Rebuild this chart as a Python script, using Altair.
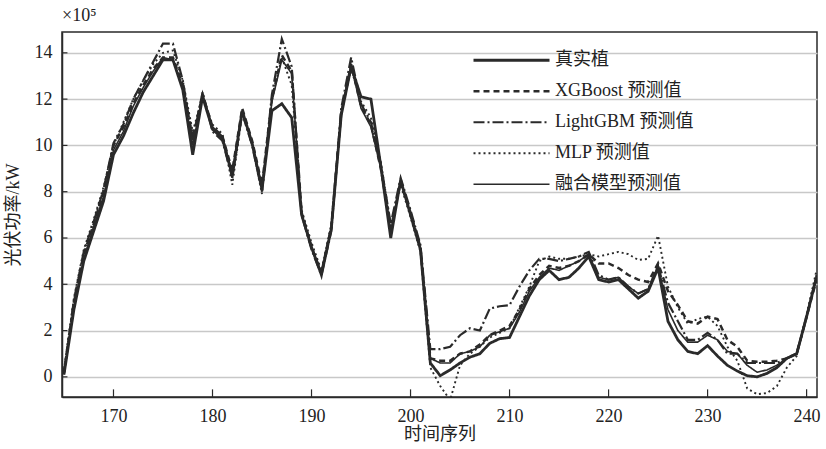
import altair as alt
import pandas as pd

x_vals = list(range(165, 242))

true_vals = [0.1, 2.9, 5.0, 6.3, 7.6, 9.6, 10.4, 11.4, 12.3, 13.0,
             13.7, 13.7, 12.4, 9.6, 12.1, 10.7, 10.3, 8.7, 11.5, 10.1,
             8.1, 11.5, 11.8, 11.2, 7.0, 5.6, 4.4, 6.4, 11.3, 13.4,
             12.1, 12.0, 9.1, 6.0, 8.5, 7.0, 5.5, 0.6, 0.05, 0.3,
             0.6, 0.85, 1.0, 1.45, 1.65, 1.7, 2.6, 3.5, 4.2, 4.6,
             4.2, 4.3, 4.7, 5.2, 4.2, 4.1, 4.2, 3.8, 3.4, 3.7,
             4.7, 2.4, 1.6, 1.1, 1.0, 1.35, 0.9, 0.5, 0.25, 0.05,
             0.0, 0.15, 0.4, 0.8, 1.0, 2.6, 4.3]
xgb_vals = [0.2, 3.2, 5.3, 6.6, 8.0, 10.0, 10.8, 11.8, 12.6, 13.3,
            13.8, 13.8, 12.6, 10.3, 12.2, 10.8, 10.4, 8.9, 11.6, 10.2,
            8.3, 12.0, 13.9, 13.2, 7.1, 5.6, 4.5, 6.5, 11.4, 13.5,
            11.7, 10.9, 9.0, 6.4, 8.4, 7.1, 5.6, 0.8, 0.7, 0.7,
            1.0, 1.1, 1.4, 1.8, 2.0, 2.2, 2.9, 3.8, 4.4, 4.8,
            4.7, 4.8, 5.0, 5.3, 4.9, 4.9, 4.7, 4.4, 4.2, 4.1,
            4.9, 3.7, 3.1, 2.4, 2.3, 2.6, 2.5, 1.6, 1.3, 0.7,
            0.65, 0.65, 0.7, 0.8, 1.0, 2.6, 4.2]
lgbm_vals = [0.2, 3.3, 5.4, 6.7, 8.1, 10.1, 10.9, 12.0, 12.8, 13.6,
             14.4, 14.4, 12.8, 10.2, 12.3, 10.6, 10.2, 8.6, 11.4, 10.0,
             8.0, 12.2, 14.6, 13.4, 7.0, 5.5, 4.4, 6.3, 11.6, 13.8,
             11.8, 11.0, 9.2, 6.6, 8.6, 7.2, 5.7, 1.2, 1.2, 1.3,
             1.8, 2.1, 2.0, 2.95, 3.05, 3.1, 3.9, 4.6, 5.1, 5.1,
             5.0, 5.1, 5.2, 5.4, 4.4, 4.2, 4.3, 3.9, 3.6, 3.8,
             4.8, 3.2, 2.4, 1.6, 1.6, 1.9, 1.6, 1.0, 1.0, 0.6,
             0.6, 0.6, 0.6, 0.8, 1.0, 2.6, 4.4]
mlp_vals = [0.3, 3.4, 5.5, 6.8, 8.2, 10.0, 11.0, 12.0, 12.8, 13.5,
            14.0, 14.1, 12.8, 10.6, 12.1, 10.9, 10.5, 8.3, 11.4, 10.0,
            7.9, 12.0, 13.8, 12.6, 7.2, 5.8, 4.6, 6.6, 11.5, 13.3,
            11.9, 11.2, 9.3, 6.5, 8.3, 6.9, 5.4, 0.4, -0.4, -1.0,
            0.5, 1.0, 1.3, 1.7, 1.9, 2.1, 3.0, 3.9, 5.0, 5.2,
            5.1, 5.1, 5.2, 5.3, 5.2, 5.3, 5.4, 5.3, 5.05, 5.1,
            6.1, 3.9, 3.0, 2.3, 2.5, 2.6, 2.2, 1.3, 0.7, -0.5,
            -0.75, -0.7, -0.4, 0.4, 0.9, 2.7, 4.6]
fusion_vals = [0.1, 3.0, 5.1, 6.5, 7.8, 9.8, 10.6, 11.7, 12.5, 13.2,
               13.8, 13.7, 12.5, 10.0, 12.2, 10.8, 10.4, 8.8, 11.5, 10.1,
               8.2, 11.9, 13.7, 13.1, 7.0, 5.6, 4.5, 6.4, 11.4, 13.5,
               11.6, 10.8, 9.0, 6.3, 8.5, 7.0, 5.6, 0.8, 0.6, 0.6,
               1.0, 1.1, 1.3, 1.8, 1.95, 2.1, 2.8, 3.7, 4.3, 4.7,
               4.6, 4.8, 5.0, 5.3, 4.3, 4.2, 4.3, 3.9, 3.6, 3.8,
               4.8, 2.9, 2.0, 1.5, 1.5, 1.8, 1.6, 1.1, 1.0, 0.5,
               0.2, 0.3, 0.5, 0.8, 1.0, 2.6, 4.3]

series_names = ["真实植", "XGBoost 预测值", "LightGBM 预测值", "MLP 预测值", "融合模型预测值"]
series_vals = [true_vals, xgb_vals, lgbm_vals, mlp_vals, fusion_vals]

x_ticks = [170, 180, 190, 200, 210, 220, 230, 240]
y_ticks = [0, 2, 4, 6, 8, 10, 12, 14]

rows = []
for name, vals in zip(series_names, series_vals):
    for xv, yv in zip(x_vals, vals):
        rows.append({"t": xv, "p": yv, "s": name})
df = pd.DataFrame(rows)

X_MIN, X_MAX = 164.8, 241.05
Y_MIN, Y_MAX = -0.87, 14.9

SERIF = "Liberation Serif, Noto Sans CJK SC"
INK = "#2a2a2a"

xscale = alt.Scale(domain=[X_MIN, X_MAX], nice=False, zero=False)
yscale = alt.Scale(domain=[Y_MIN, Y_MAX], nice=False, zero=False)

lines = alt.Chart(df).mark_line(clip=True).encode(
    x=alt.X("t:Q", scale=xscale,
            axis=alt.Axis(values=x_ticks, title="时间序列", grid=False, tickSize=0,
                          labelPadding=10, titlePadding=0)),
    y=alt.Y("p:Q", scale=yscale,
            axis=alt.Axis(values=y_ticks, title="光伏功率/kW", grid=True, tickSize=0,
                          labelPadding=10, titlePadding=12)),
    color=alt.Color("s:N", sort=series_names,
                    scale=alt.Scale(domain=series_names, range=[INK] * 5),
                    legend=alt.Legend(title=None, orient="none", legendX=410, legendY=13,
                                      symbolType="stroke", symbolSize=5776,
                                      clipHeight=30.5, rowPadding=0,
                                      labelFontSize=18, labelFont=SERIF, labelColor="#222",
                                      labelOffset=4, symbolOffset=0,
                                      labelLimit=400)),
    strokeDash=alt.StrokeDash("s:N", sort=series_names,
                              scale=alt.Scale(domain=series_names,
                                              range=[[1, 0], [6, 4], [11, 3, 2, 3], [2, 3], [1, 0]]),
                              legend=None),
    strokeWidth=alt.StrokeWidth("s:N", sort=series_names,
                                scale=alt.Scale(domain=series_names,
                                                range=[2.8, 1.6, 1.8, 2.0, 1.5]),
                                legend=None),
)

xtick_df = pd.DataFrame({"t": x_ticks})
xtick_rules = alt.Chart(xtick_df).mark_rule(color=INK, strokeWidth=1.2).encode(
    x="t:Q",
    y=alt.datum(Y_MIN),
    y2=alt.datum(Y_MIN + 0.33),
)
ytick_df = pd.DataFrame({"v": y_ticks})
ytick_rules = alt.Chart(ytick_df).mark_rule(color=INK, strokeWidth=1.2).encode(
    y="v:Q",
    x=alt.datum(X_MIN),
    x2=alt.datum(X_MIN + 0.55),
)

chart = alt.layer(lines, xtick_rules, ytick_rules).properties(
    width=755, height=365,
    background="white",
    title=alt.TitleParams("×10⁵", anchor="start", frame="group", fontSize=18,
                          font=SERIF, fontWeight="normal", color="#222", offset=7),
    autosize=alt.AutoSizeParams(type="none"),
    padding={"left": 62, "top": 32, "right": 9, "bottom": 52},
).configure_view(
    stroke=INK, strokeWidth=1.5
).configure_axis(
    labelFont=SERIF, labelFontSize=18, labelColor="#222",
    titleFont=SERIF, titleFontSize=18, titleColor="#222", titleFontWeight="normal",
    domainColor=INK, domainWidth=1.5,
    gridColor="#c8c8c8", gridWidth=1.5,
)

chart.save("out.html", embed_options={"renderer": "svg", "actions": False})
